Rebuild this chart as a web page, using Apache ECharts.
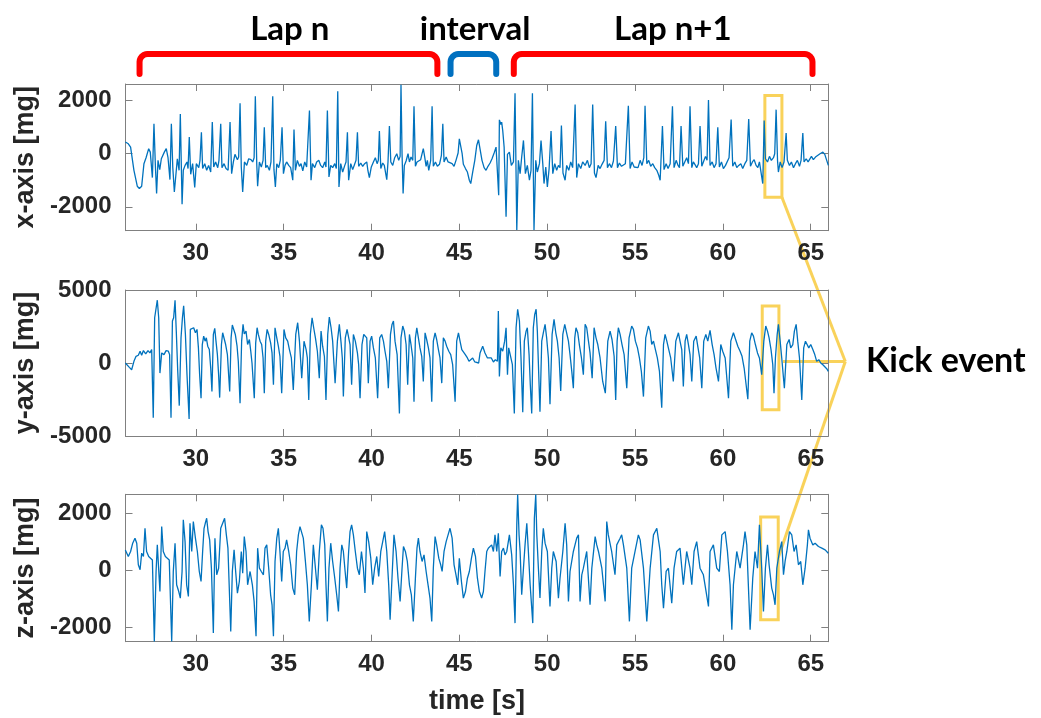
<!DOCTYPE html>
<html>
<head>
<meta charset="utf-8">
<title>Accelerometer signals - kick event</title>
<script src="https://cdn.jsdelivr.net/npm/echarts@6/dist/echarts.min.js"></script>
<style>
  html, body { margin: 0; padding: 0; background: #ffffff; }
  #chart { width: 1041px; height: 718px; }
</style>
</head>
<body>
<div id="chart"></div>
<script>
// ---- time axis ----
const timeRange = [26, 66];
const timeTicks = [30, 35, 40, 45, 50, 55, 60, 65];

// ---- panels ----
const panelNames = ['x-axis [mg]', 'y-axis [mg]', 'z-axis [mg]'];
const yRanges = [[-2900, 2626], [-5000, 5000], [-2490, 2664]];
const yTicks = [[-2000, 0, 2000], [-5000, 0, 5000], [-2000, 0, 2000]];

// ---- acceleration samples [time s, mg] ----
const accX = [[25.99,440],[26.16,375],[26.29,250],[26.48,-625],[26.67,-1225],[26.79,-1310],[26.92,-1225],[27.05,-375],[27.17,-150],[27.32,190],[27.41,60],[27.53,-900],[27.62,1125],[27.70,-440],[27.77,-1500],[27.85,-250],[27.95,-600],[28.04,-190],[28.21,60],[28.32,190],[28.42,-150],[28.53,-975],[28.61,1125],[28.69,-500],[28.78,-1440],[28.86,-1375],[28.95,-190],[29.05,-625],[29.12,1500],[29.22,-1900],[29.29,-625],[29.39,-440],[29.50,-310],[29.56,-560],[29.63,625],[29.71,-775],[29.82,-375],[29.94,-1275],[30.03,-375],[30.17,-525],[30.24,-250],[30.32,810],[30.39,-560],[30.51,-375],[30.62,-625],[30.73,-440],[30.85,-690],[30.94,1190],[31.02,-500],[31.13,-310],[31.25,-525],[31.32,-250],[31.42,1125],[31.49,-525],[31.61,-375],[31.72,-560],[31.84,-625],[31.95,1190],[32.04,-750],[32.14,-310],[32.23,-25],[32.37,-225],[32.44,-125],[32.52,1900],[32.59,-500],[32.67,-1440],[32.77,-310],[32.90,-440],[33.01,-190],[33.14,-225],[33.24,-310],[33.32,-150],[33.39,2160],[33.47,-375],[33.52,-1225],[33.62,-310],[33.73,-500],[33.83,-250],[33.90,1000],[33.98,-525],[34.07,-440],[34.19,-625],[34.28,-310],[34.38,2160],[34.45,-600],[34.53,-1250],[34.61,-375],[34.72,-525],[34.81,-250],[34.91,1000],[34.99,-750],[35.08,-440],[35.17,-310],[35.29,-440],[35.40,-525],[35.52,-1000],[35.59,910],[35.67,-625],[35.78,-250],[35.90,-475],[35.99,-375],[36.09,-650],[36.20,-310],[36.31,-500],[36.39,-560],[36.47,1625],[36.56,-1000],[36.64,-375],[36.77,-525],[36.88,-310],[37.00,-250],[37.11,-440],[37.22,-525],[37.34,-310],[37.41,-500],[37.49,1625],[37.58,-875],[37.68,-440],[37.79,-525],[37.91,-375],[38.00,-560],[38.08,2350],[38.15,-1250],[38.25,-375],[38.36,-690],[38.48,-440],[38.55,-310],[38.63,810],[38.70,-1000],[38.82,-375],[38.93,-600],[39.05,-375],[39.12,-250],[39.20,810],[39.27,-475],[39.39,-350],[39.50,-475],[39.61,-375],[39.73,-310],[39.80,-650],[39.88,-900],[39.99,-500],[40.11,-310],[40.22,-150],[40.32,-375],[40.39,-250],[40.45,850],[40.53,-560],[40.64,-350],[40.73,-440],[40.87,-975],[40.94,-310],[41.02,1040],[41.10,-310],[41.21,-440],[41.32,-150],[41.44,0],[41.55,-250],[41.63,-100],[41.68,2600],[41.74,0],[41.80,-1500],[41.87,-440],[41.97,-275],[42.08,0],[42.16,-310],[42.25,-125],[42.35,-250],[42.42,1790],[42.50,-475],[42.59,-310],[42.69,-350],[42.80,-225],[42.88,0],[42.95,190],[43.03,-125],[43.11,-475],[43.18,-250],[43.26,-625],[43.37,-250],[43.45,1790],[43.52,-475],[43.64,-310],[43.75,-475],[43.87,-400],[43.98,-60],[44.06,1125],[44.13,-310],[44.25,-125],[44.36,-310],[44.47,-250],[44.59,-375],[44.70,-475],[44.81,-250],[44.93,25],[45.00,560],[45.08,625],[45.16,0],[45.23,-400],[45.35,-560],[45.46,-690],[45.57,-1000],[45.65,-1125],[45.76,-690],[45.88,-250],[45.99,310],[46.09,525],[46.18,500],[46.29,-250],[46.41,-525],[46.52,-625],[46.63,-475],[46.75,-350],[46.86,-190],[46.98,25],[47.09,250],[47.19,310],[47.24,-1560],[47.28,1275],[47.36,1100],[47.41,1190],[47.47,875],[47.55,250],[47.66,-2375],[47.74,-25],[47.85,60],[47.96,-440],[48.08,-310],[48.17,2275],[48.27,-2875],[48.36,-250],[48.46,-750],[48.55,-125],[48.65,500],[48.76,-750],[48.87,-440],[48.99,-1000],[49.08,-625],[49.16,2275],[49.25,-2875],[49.35,-250],[49.44,-690],[49.56,-375],[49.65,500],[49.75,-375],[49.82,-1125],[49.92,-500],[50.01,-1250],[50.11,-560],[50.22,850],[50.32,-750],[50.43,-375],[50.54,-625],[50.64,-440],[50.73,-525],[50.81,1060],[50.90,-725],[51.02,-1000],[51.11,-440],[51.23,-625],[51.34,-310],[51.45,-525],[51.59,1850],[51.68,-900],[51.78,-375],[51.91,-560],[52.02,-310],[52.16,-440],[52.29,-250],[52.40,-525],[52.50,-375],[52.59,1850],[52.69,-725],[52.78,-900],[52.90,-440],[53.01,-560],[53.12,-400],[53.24,-250],[53.33,1225],[53.43,-525],[53.54,-375],[53.66,-525],[53.77,-275],[53.90,1040],[54.00,-525],[54.11,-350],[54.23,-475],[54.34,-525],[54.45,-375],[54.53,-440],[54.62,1810],[54.72,-560],[54.83,-310],[54.95,-500],[55.06,-440],[55.17,-525],[55.29,-250],[55.40,-440],[55.50,-150],[55.57,1810],[55.67,-375],[55.78,-250],[55.89,-475],[56.01,-375],[56.12,-525],[56.24,-625],[56.35,-810],[56.43,-1000],[56.56,1040],[56.65,-600],[56.77,-375],[56.88,-560],[57.00,-375],[57.13,1790],[57.22,-525],[57.34,-250],[57.45,-440],[57.53,-525],[57.62,1040],[57.72,-475],[57.83,-310],[57.94,-150],[58.04,-375],[58.13,1790],[58.23,-525],[58.32,-310],[58.44,-440],[58.51,-525],[58.61,-375],[58.70,1040],[58.80,-475],[58.89,-310],[59.01,-100],[59.10,-250],[59.18,2025],[59.27,-440],[59.39,-310],[59.50,-525],[59.61,-375],[59.71,1000],[59.80,-500],[59.92,-310],[60.03,-560],[60.15,-440],[60.26,-375],[60.35,-150],[60.47,1290],[60.56,-475],[60.68,-310],[60.79,-525],[60.90,-440],[61.02,-375],[61.13,-560],[61.25,-375],[61.36,-250],[61.47,1310],[61.57,-475],[61.68,-310],[61.78,-225],[61.89,-440],[61.99,-525],[62.08,-310],[62.19,-375],[62.27,-1125],[62.35,1250],[62.42,-190],[62.54,-310],[62.65,-100],[62.76,-250],[62.88,-150],[62.95,0],[63.03,1660],[63.11,-250],[63.16,-690],[63.26,-310],[63.37,-525],[63.48,-310],[63.60,775],[63.67,-250],[63.79,-440],[63.90,-310],[64.02,-525],[64.13,-375],[64.24,-250],[64.36,-475],[64.45,-250],[64.55,775],[64.62,-310],[64.74,-190],[64.85,-310],[64.93,-250],[65.04,-100],[65.15,-225],[65.27,-125],[65.38,-60],[65.53,0],[65.69,60],[65.80,-25],[65.91,-250],[66.00,-440]];

const accY = [[25.99,0],[26.22,-300],[26.35,-460],[26.48,115],[26.60,460],[26.73,530],[26.83,805],[26.92,530],[27.02,850],[27.15,620],[27.28,850],[27.39,690],[27.49,920],[27.58,-3750],[27.66,3100],[27.74,3220],[27.81,4300],[27.89,3100],[27.96,-690],[28.06,690],[28.19,575],[28.31,850],[28.44,805],[28.51,575],[28.59,-3750],[28.67,2875],[28.74,3100],[28.82,4300],[28.89,2185],[28.97,-460],[29.06,-2920],[29.16,1725],[29.24,3100],[29.31,3910],[29.41,1955],[29.50,-805],[29.62,-3840],[29.69,2300],[29.79,2230],[29.88,2415],[29.98,2070],[30.07,2300],[30.15,1035],[30.22,-805],[30.30,-2415],[30.37,1265],[30.45,1840],[30.53,1495],[30.60,1725],[30.68,1150],[30.77,920],[30.85,-345],[30.92,-1955],[31.00,1955],[31.08,2370],[31.15,1495],[31.23,575],[31.30,-805],[31.36,-2370],[31.46,1265],[31.53,2070],[31.61,2185],[31.70,1265],[31.80,575],[31.87,-805],[31.93,-1955],[32.01,1725],[32.08,2600],[32.16,2530],[32.25,1955],[32.35,1150],[32.42,115],[32.52,-2760],[32.61,1495],[32.69,2645],[32.76,2000],[32.86,2185],[32.95,1265],[33.05,1610],[33.13,805],[33.20,0],[33.33,-2415],[33.41,1380],[33.49,2415],[33.56,1955],[33.66,1495],[33.75,1265],[33.83,345],[33.90,-2070],[33.98,1495],[34.06,2300],[34.15,1955],[34.26,1380],[34.34,690],[34.42,-1495],[34.51,2415],[34.61,1725],[34.70,1150],[34.79,460],[34.89,-2070],[35.02,2300],[35.12,1725],[35.23,1495],[35.33,920],[35.44,345],[35.55,-1840],[35.69,1955],[35.80,2760],[35.90,1495],[36.03,-1035],[36.16,1495],[36.28,920],[36.35,345],[36.43,-2530],[36.52,1955],[36.62,3100],[36.71,2415],[36.81,1725],[36.92,805],[37.03,-1035],[37.13,2185],[37.22,1150],[37.32,460],[37.41,-2530],[37.51,1955],[37.60,3150],[37.70,2415],[37.79,1495],[37.93,-1380],[38.06,1495],[38.17,2645],[38.27,1380],[38.34,345],[38.40,-2300],[38.51,1725],[38.61,2300],[38.68,2415],[38.78,1265],[38.87,-1495],[38.97,1955],[39.08,1495],[39.20,690],[39.27,-115],[39.35,-2415],[39.46,1265],[39.56,1955],[39.63,1955],[39.73,1725],[39.82,-1380],[39.92,1495],[40.01,1840],[40.11,1035],[40.22,345],[40.35,-2415],[40.47,1725],[40.58,1955],[40.68,1495],[40.77,805],[40.87,115],[40.96,-1725],[41.08,1955],[41.17,2645],[41.25,2875],[41.34,1495],[41.46,575],[41.59,-3450],[41.68,1725],[41.78,2530],[41.87,2185],[41.97,1265],[42.06,-1495],[42.16,1955],[42.25,1265],[42.35,345],[42.42,-2645],[42.50,1725],[42.58,2415],[42.67,1725],[42.76,1035],[42.86,460],[42.95,-1265],[43.05,2070],[43.14,1610],[43.24,1035],[43.33,345],[43.43,-2645],[43.52,1495],[43.62,2070],[43.71,1610],[43.81,920],[43.90,345],[44.00,-1380],[44.09,1725],[44.19,1495],[44.28,1150],[44.40,805],[44.51,575],[44.62,-115],[44.76,-2645],[44.85,1495],[44.95,2070],[45.04,1495],[45.14,920],[45.23,805],[45.34,575],[45.46,345],[45.55,115],[45.65,230],[45.76,345],[45.88,70],[45.99,160],[46.10,0],[46.18,690],[46.33,1150],[46.46,690],[46.60,345],[46.71,230],[46.82,345],[46.94,70],[47.05,230],[47.17,115],[47.22,3565],[47.28,-920],[47.36,1035],[47.47,805],[47.58,1495],[47.66,2415],[47.74,-805],[47.81,1035],[47.92,920],[48.02,-115],[48.13,-3450],[48.23,2415],[48.32,3680],[48.42,2875],[48.51,345],[48.61,-3380],[48.70,1495],[48.80,2185],[48.87,2415],[48.97,575],[49.04,-1495],[49.12,-3450],[49.21,2415],[49.29,3335],[49.37,3680],[49.44,2185],[49.52,-805],[49.59,-3335],[49.69,1495],[49.78,2070],[49.88,2645],[49.97,1725],[50.07,345],[50.16,-2830],[50.28,1955],[50.39,2990],[50.49,2070],[50.58,1495],[50.68,345],[50.77,-1910],[50.89,1955],[51.00,2645],[51.11,2645],[51.21,1495],[51.30,575],[51.40,-575],[51.49,-1725],[51.57,1725],[51.64,2415],[51.74,2070],[51.83,1265],[51.95,345],[52.06,-805],[52.16,2645],[52.25,2415],[52.35,1495],[52.44,690],[52.56,-1035],[52.67,2415],[52.78,1725],[52.88,1265],[53.01,345],[53.16,-1265],[53.31,-2070],[53.45,1495],[53.58,2185],[53.69,1610],[53.81,460],[53.90,-2530],[53.98,1495],[54.05,2415],[54.15,1955],[54.26,1265],[54.38,575],[54.53,-1725],[54.66,1725],[54.81,2530],[54.91,2300],[55.02,1495],[55.14,1035],[55.25,345],[55.36,-575],[55.48,-2300],[55.61,1725],[55.76,2530],[55.86,2185],[55.95,1265],[56.05,1495],[56.16,920],[56.27,345],[56.39,-575],[56.52,-3060],[56.62,1265],[56.71,1955],[56.81,1495],[56.92,920],[57.03,345],[57.18,-1265],[57.32,1495],[57.47,2070],[57.56,1495],[57.66,920],[57.75,-1610],[57.85,1495],[57.94,1955],[58.04,1265],[58.13,575],[58.23,-1265],[58.34,1495],[58.48,1840],[58.57,1150],[58.68,345],[58.80,-1725],[58.91,1495],[59.03,1955],[59.14,1495],[59.27,2240],[59.39,1265],[59.50,575],[59.61,-345],[59.75,-1265],[59.88,1265],[59.99,805],[60.13,345],[60.32,-2415],[60.45,1495],[60.60,2070],[60.71,1955],[60.85,1150],[60.98,805],[61.09,460],[61.21,-345],[61.42,-2485],[61.53,1495],[61.64,2070],[61.74,1840],[61.85,1265],[61.97,690],[62.08,345],[62.21,-805],[62.33,1495],[62.44,2530],[62.54,2185],[62.63,1725],[62.74,920],[62.84,-115],[62.91,-2070],[62.99,345],[63.09,1955],[63.16,2645],[63.26,1495],[63.35,345],[63.50,-1725],[63.64,1265],[63.77,1610],[63.86,1035],[63.98,1265],[64.07,2185],[64.17,2645],[64.26,1495],[64.36,345],[64.49,-2530],[64.60,1035],[64.70,1495],[64.77,1610],[64.89,1035],[65.00,1265],[65.12,920],[65.23,575],[65.34,115],[65.46,230],[65.57,0],[65.69,-115],[65.80,-230],[65.91,-390],[66.00,-575]];

const accZ = [[25.99,720],[26.16,490],[26.29,665],[26.41,955],[26.54,1130],[26.64,955],[26.73,200],[26.83,25],[26.92,605],[27.02,490],[27.11,1475],[27.20,665],[27.32,490],[27.43,545],[27.53,370],[27.64,-2480],[27.74,-35],[27.81,895],[27.89,955],[27.96,-735],[28.06,1535],[28.15,665],[28.27,490],[28.38,545],[28.49,370],[28.63,-2480],[28.72,-35],[28.82,955],[28.91,-500],[29.03,-735],[29.12,-965],[29.22,-35],[29.29,1770],[29.39,1010],[29.48,-500],[29.58,-905],[29.67,1650],[29.77,665],[29.86,1710],[29.98,1130],[30.09,665],[30.20,-35],[30.30,-385],[30.39,665],[30.47,1475],[30.54,1650],[30.62,1825],[30.70,1360],[30.79,1070],[30.89,80],[31.00,-2185],[31.09,1130],[31.19,-150],[31.30,80],[31.42,1475],[31.53,1535],[31.64,1825],[31.74,1245],[31.83,780],[31.99,-2130],[32.08,-35],[32.18,720],[32.27,-35],[32.37,-790],[32.48,-385],[32.59,665],[32.67,-95],[32.76,1185],[32.86,665],[32.95,-500],[33.09,-35],[33.22,-500],[33.32,-1080],[33.43,-2300],[33.52,780],[33.62,80],[33.73,-35],[33.85,-150],[33.94,780],[34.04,895],[34.15,80],[34.26,-850],[34.34,-1200],[34.42,-2300],[34.51,315],[34.61,1130],[34.70,1475],[34.79,665],[34.89,-385],[34.98,665],[35.08,780],[35.17,1070],[35.29,665],[35.40,200],[35.52,-615],[35.63,-850],[35.74,665],[35.84,1245],[35.93,1535],[36.03,1595],[36.12,1130],[36.24,315],[36.35,-500],[36.46,-1780],[36.58,-500],[36.69,895],[36.81,80],[36.92,-675],[37.03,665],[37.15,1595],[37.24,1475],[37.34,895],[37.41,-500],[37.49,-1780],[37.58,80],[37.68,955],[37.79,315],[37.91,-270],[38.02,-850],[38.12,-1430],[38.21,80],[38.31,895],[38.40,665],[38.50,-35],[38.59,-615],[38.70,665],[38.78,1360],[38.87,1595],[38.97,1245],[39.08,665],[39.20,80],[39.31,-150],[39.43,665],[39.54,80],[39.63,-790],[39.73,1360],[39.84,1010],[39.96,430],[40.07,-500],[40.18,80],[40.30,490],[40.41,-210],[40.53,665],[40.64,1010],[40.75,1360],[40.87,665],[40.98,-500],[41.06,-1720],[41.15,-500],[41.28,1245],[41.40,665],[41.51,-270],[41.63,-1080],[41.74,80],[41.82,840],[41.93,665],[42.04,315],[42.16,-500],[42.27,-850],[42.38,-1780],[42.50,-270],[42.59,780],[42.67,1130],[42.76,665],[42.88,315],[42.99,545],[43.11,-35],[43.22,-500],[43.33,-965],[43.43,-1780],[43.52,80],[43.62,1185],[43.71,895],[43.83,430],[43.94,200],[44.02,-35],[44.13,665],[44.25,1010],[44.36,1245],[44.47,1475],[44.59,1130],[44.70,200],[44.81,-150],[44.91,-500],[45.00,430],[45.12,-385],[45.23,-965],[45.35,-735],[45.46,-270],[45.57,-35],[45.69,430],[45.80,780],[45.92,490],[46.03,-270],[46.14,-735],[46.27,-965],[46.37,-735],[46.46,-35],[46.56,665],[46.65,780],[46.75,720],[46.84,895],[46.94,665],[47.03,1245],[47.13,665],[47.22,1300],[47.32,-210],[47.41,665],[47.51,780],[47.60,545],[47.70,665],[47.85,1245],[47.98,545],[48.08,-500],[48.17,-1840],[48.27,1595],[48.32,2660],[48.40,1245],[48.46,665],[48.55,-850],[48.65,80],[48.74,895],[48.84,1650],[48.93,665],[49.03,-500],[49.18,-1840],[49.27,1825],[49.35,2660],[49.41,1245],[49.50,80],[49.59,-965],[49.69,665],[49.78,1475],[49.88,955],[50.01,665],[50.16,-1255],[50.26,80],[50.35,665],[50.51,315],[50.64,-965],[50.73,-270],[50.89,665],[51.02,1650],[51.11,895],[51.21,-1080],[51.30,-35],[51.49,665],[51.68,1130],[51.78,1245],[51.87,-1080],[51.97,-150],[52.06,80],[52.25,665],[52.44,-1200],[52.54,80],[52.73,1185],[52.82,895],[52.92,665],[53.11,80],[53.30,-1080],[53.39,1710],[53.48,1245],[53.58,1245],[53.67,665],[53.86,-150],[53.96,895],[54.15,1130],[54.24,1245],[54.34,895],[54.53,80],[54.68,-1780],[54.81,80],[55.00,665],[55.19,1245],[55.29,1070],[55.48,80],[55.67,-1780],[55.86,80],[56.05,1245],[56.24,1475],[56.33,1420],[56.43,665],[56.52,-500],[56.62,-1315],[56.77,-35],[56.90,80],[57.09,-1140],[57.22,80],[57.37,665],[57.56,780],[57.75,-500],[57.94,665],[58.13,80],[58.23,-500],[58.36,665],[58.51,1010],[58.70,80],[58.89,-150],[59.18,-1255],[59.27,665],[59.46,895],[59.65,80],[59.80,-35],[59.94,1245],[60.13,1360],[60.26,665],[60.41,-500],[60.51,-2070],[60.60,-500],[60.79,665],[60.98,80],[61.17,895],[61.26,1360],[61.36,895],[61.55,-2070],[61.70,-270],[61.83,665],[61.97,80],[62.08,1595],[62.21,80],[62.31,-1430],[62.42,80],[62.54,895],[62.63,200],[62.78,-615],[62.88,-850],[62.97,-1200],[63.07,80],[63.22,665],[63.35,1010],[63.45,-150],[63.54,315],[63.64,665],[63.79,1360],[63.92,1245],[64.05,665],[64.17,895],[64.30,200],[64.43,315],[64.55,-500],[64.68,80],[64.81,895],[64.87,1420],[64.96,1130],[65.12,895],[65.25,955],[65.44,840],[65.63,780],[65.82,720],[66.00,605]];

// ---- annotations ----
const phaseNames = ['Lap n', 'interval', 'Lap n+1'];
const phaseSpans = [[26.8, 43.75], [44.5, 47.1], [48.1, 65.1]];
const phaseLabelTimes = [35.35, 45.9, 57.15];
const kickBoxes = [[62.39, 2190, 63.36, -1640], [62.24, 3900, 63.19, -3200], [62.15, 1870, 63.15, -1720]];
const kickText = 'Kick event';

const series = [accX, accY, accZ];

// ---- style ----
const LINE_BLUE = '#0072BD';
const BOX_GRAY = '#808080';
const TEXT_DARK = '#262626';
const KICK_YELLOW = '#F9D25A';
const PHASE_COLORS = ['#FF0000', '#0070C0', '#FF0000'];
const AXIS_FONT = '"Liberation Sans", Arial, Helvetica, sans-serif';
const NOTE_FONT = 'Lato, "Open Sans", sans-serif';

const gridBoxes = [
  { top: 84, height: 146.7 },
  { top: 290, height: 146 },
  { top: 494.3, height: 147.4 }
];

const chart = echarts.init(document.getElementById('chart'), null, { renderer: 'canvas' });

const plainNumber = (v) => String(v);
const grid = [], xAxis = [], yAxis = [], seriesOpt = [];
gridBoxes.forEach((g, i) => {
  grid.push({ left: 125.5, right: 212.7, top: g.top, height: g.height, containLabel: false });
  const line = { show: true, onZero: false, lineStyle: { color: BOX_GRAY, width: 1 } };
  const tick = (vals) => ({ show: true, inside: true, length: 7, customValues: vals, lineStyle: { color: BOX_GRAY, width: 1 } });
  // bottom time axis with labels
  xAxis.push({
    gridIndex: i, type: 'value', position: 'bottom', min: timeRange[0], max: timeRange[1],
    axisLine: line, axisTick: tick(timeTicks), splitLine: { show: false },
    axisLabel: { customValues: timeTicks, formatter: plainNumber, margin: 11, fontSize: 24, fontWeight: 'bold', color: TEXT_DARK, fontFamily: AXIS_FONT },
    name: i === 2 ? 'time [s]' : '', nameLocation: 'middle', nameGap: 46,
    nameTextStyle: { fontSize: 27, fontWeight: 'bold', color: TEXT_DARK, fontFamily: AXIS_FONT }
  });
  // top edge of the box
  xAxis.push({
    gridIndex: i, type: 'value', position: 'top', min: timeRange[0], max: timeRange[1],
    axisLine: line, axisTick: tick(timeTicks), axisLabel: { show: false }, splitLine: { show: false }
  });
  yAxis.push({
    gridIndex: i, type: 'value', position: 'left', min: yRanges[i][0], max: yRanges[i][1],
    axisLine: line, axisTick: tick(yTicks[i]), splitLine: { show: false },
    axisLabel: { customValues: yTicks[i], formatter: plainNumber, margin: 14, fontSize: 24, fontWeight: 'bold', color: TEXT_DARK, fontFamily: AXIS_FONT },
    name: panelNames[i], nameLocation: 'middle', nameRotate: 90, nameGap: 77,
    nameTextStyle: { fontSize: 27, fontWeight: 'bold', color: TEXT_DARK, fontFamily: AXIS_FONT }
  });
  yAxis.push({
    gridIndex: i, type: 'value', position: 'right', min: yRanges[i][0], max: yRanges[i][1],
    axisLine: line, axisTick: tick(yTicks[i]), axisLabel: { show: false }, splitLine: { show: false }
  });
  const kb = kickBoxes[i];
  seriesOpt.push({
    type: 'line', xAxisIndex: 2 * i, yAxisIndex: 2 * i, data: series[i],
    showSymbol: false, symbol: 'none', clip: true, animation: false,
    lineStyle: { color: LINE_BLUE, width: 1.3 },
    markArea: {
      silent: true,
      itemStyle: { color: 'rgba(0,0,0,0)', borderColor: KICK_YELLOW, borderWidth: 3 },
      data: [[{ coord: [kb[0], kb[1]] }, { coord: [kb[2], kb[3]] }]]
    }
  });
});

chart.setOption({
  backgroundColor: '#ffffff',
  animation: false,
  grid: grid, xAxis: xAxis, yAxis: yAxis, series: seriesOpt
});

// ---- overlay: lap brackets, labels and kick-event connectors ----
const px = (i, t, v) => chart.convertToPixel({ seriesIndex: i }, [t, v]);
const graphics = [];
const bracketTop = 54, bracketBottom = 74, r = 8;

// bracket outline: two legs joined by a top bar with rounded corners
function bracketPoints(x1, x2) {
  const pts = [[x1, bracketBottom]];
  for (let k = 0; k <= 6; k++) {
    const a = Math.PI + (k / 6) * (Math.PI / 2);
    pts.push([x1 + r + r * Math.cos(a), bracketTop + r + r * Math.sin(a)]);
  }
  for (let k = 0; k <= 6; k++) {
    const a = 1.5 * Math.PI + (k / 6) * (Math.PI / 2);
    pts.push([x2 - r + r * Math.cos(a), bracketTop + r + r * Math.sin(a)]);
  }
  pts.push([x2, bracketBottom]);
  return pts;
}

phaseSpans.forEach((span, k) => {
  const x1 = px(0, span[0], 0)[0];
  const x2 = px(0, span[1], 0)[0];
  graphics.push({
    type: 'polyline',
    shape: { points: bracketPoints(x1, x2) },
    style: { fill: null, stroke: PHASE_COLORS[k], lineWidth: 6, lineCap: 'round', lineJoin: 'round' },
    silent: true
  });
  graphics.push({
    type: 'text',
    x: px(0, phaseLabelTimes[k], 0)[0], y: 29,
    style: { text: phaseNames[k], fill: '#000000', font: `bold 33px ${NOTE_FONT}`, align: 'center', verticalAlign: 'middle' },
    silent: true
  });
});

const rightEdge = px(1, timeRange[1], 0)[0];
const vertex = [rightEdge + 17, px(1, timeRange[1], 0)[1] - 1.5];
const topCorner = px(0, kickBoxes[0][2], kickBoxes[0][3]);
const midStart = [px(1, kickBoxes[1][2], 0)[0] + 4, vertex[1]];
const lowStart = px(2, kickBoxes[2][2], 445);
[topCorner, midStart, lowStart].forEach((p) => {
  graphics.push({
    type: 'line',
    shape: { x1: p[0], y1: p[1], x2: vertex[0], y2: vertex[1] },
    style: { stroke: KICK_YELLOW, lineWidth: 3 },
    silent: true
  });
});
graphics.push({
  type: 'text', x: 866, y: vertex[1],
  style: { text: kickText, fill: '#000000', font: `bold 34px ${NOTE_FONT}`, align: 'left', verticalAlign: 'middle' },
  silent: true
});

chart.setOption({ graphic: graphics });
</script>
</body>
</html>
